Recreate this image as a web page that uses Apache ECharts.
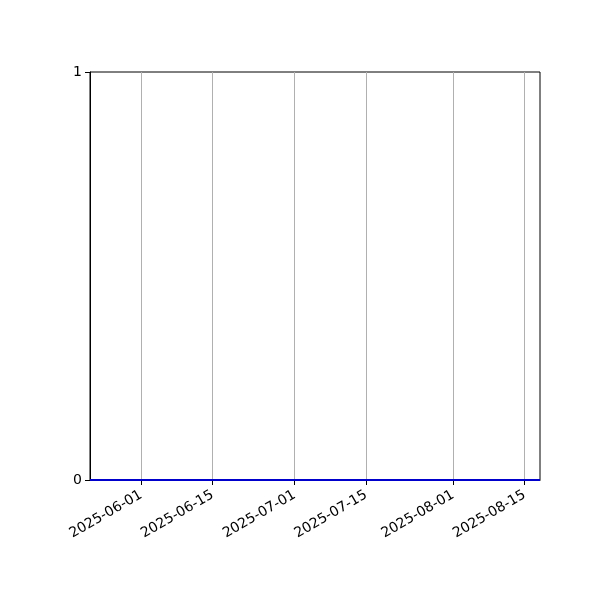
<!DOCTYPE html>
<html lang="en">
<head>
 <meta charset="UTF-8">
 <title>Chart</title>
 <style>html,body{margin:0;padding:0;background:#fff;}</style>
</head>
<body>
 <div id="main" style="width:600px;height:600px;"></div>
 <script src="https://cdn.jsdelivr.net/npm/echarts@6/dist/echarts.min.js"></script>
 <script type="text/javascript">
var dates = ['2025-05-22', '2025-05-29', '2025-06-05', '2025-06-12', '2025-06-19',
  '2025-06-26', '2025-07-03', '2025-07-10', '2025-07-17', '2025-07-24',
  '2025-07-31', '2025-08-07', '2025-08-14', '2025-08-18'];
var values = [0, 0, 0, 0, 0, 0, 0, 0, 0, 0, 0, 0, 0, 0];
var xTicks = ['2025-06-01', '2025-06-15', '2025-07-01', '2025-07-15', '2025-08-01', '2025-08-15'];
var yTicks = [0, 1];

function ms(s) { return new Date(s + 'T00:00:00').getTime(); }
function fmt(v) {
  var d = new Date(v);
  var p = function (n) { return (n < 10 ? '0' : '') + n; };
  return d.getFullYear() + '-' + p(d.getMonth() + 1) + '-' + p(d.getDate());
}

var myChart = echarts.init(document.getElementById('main'));
var tickMs = xTicks.map(ms);

myChart.setOption({
  animation: false,
  textStyle: { fontFamily: 'DejaVu Sans' },
  grid: {
    left: 90, right: 60, top: 72, bottom: 120,
    show: true, borderColor: '#000', borderWidth: 1, backgroundColor: '#fff'
  },
  xAxis: {
    type: 'value',
    min: ms(dates[0]),
    max: ms(dates[dates.length - 1]),
    axisLine: { show: true, onZero: false, lineStyle: { color: '#000', width: 1 } },
    axisTick: { show: true, length: 5, lineStyle: { color: '#000' }, customValues: tickMs },
    axisLabel: {
      customValues: tickMs,
      rotate: 30,
      color: '#000',
      fontSize: 14,
      margin: 14,
      formatter: function (v) { return fmt(v); }
    },
    splitLine: { show: true, lineStyle: { color: '#b0b0b0', width: 1 } }
  },
  yAxis: {
    type: 'value',
    min: yTicks[0],
    max: yTicks[1],
    interval: 1,
    axisLine: { show: true, lineStyle: { color: '#000', width: 1 } },
    axisTick: { show: true, length: 5, lineStyle: { color: '#000' } },
    axisLabel: { color: '#000', fontSize: 14, margin: 8 },
    splitLine: { show: false }
  },
  series: [{
    type: 'line',
    data: dates.map(function (d, i) { return [ms(d), values[i]]; }),
    showSymbol: false,
    lineStyle: { color: '#0000cc', width: 2 },
    itemStyle: { color: '#0000cc' },
    clip: false
  }]
});
 </script>
</body>
</html>
